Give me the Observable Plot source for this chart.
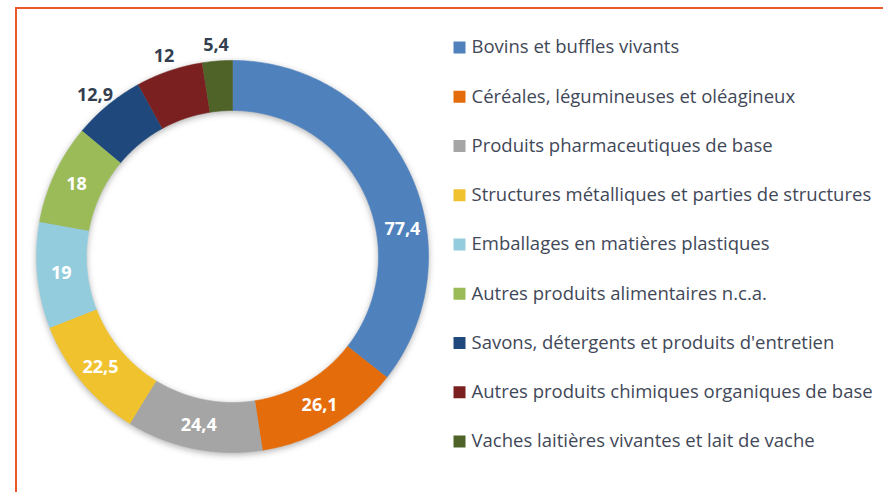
<!DOCTYPE html>
<html>
<head>
<meta charset="utf-8">
<script src="https://cdn.jsdelivr.net/npm/d3@7"></script>
<script src="https://cdn.jsdelivr.net/npm/@observablehq/plot@0.6"></script>
<style>
  html, body { margin: 0; padding: 0; background: #fff; overflow: hidden; }
  #wrap { position: relative; width: 883px; height: 492px; }
  #frame { position: absolute; left: 15px; top: 7px; width: 900px; height: 500px;
           border-top: 2px solid #E9592A; border-left: 2px solid #E9592A; box-sizing: border-box; pointer-events: none; }
  svg { display: block; }
</style>
</head>
<body>
<div id="wrap"><div id="frame"></div></div>
<script>
// ---- data ----
const categories = [
  "Bovins et buffles vivants",
  "Céréales, légumineuses et oléagineux",
  "Produits pharmaceutiques de base",
  "Structures métalliques et parties de structures",
  "Emballages en matières plastiques",
  "Autres produits alimentaires n.c.a.",
  "Savons, détergents et produits d'entretien",
  "Autres produits chimiques organiques de base",
  "Vaches laitières vivantes et lait de vache"
];
const values = [77.4, 26.1, 24.4, 22.5, 19, 18, 12.9, 12, 5.4];
const colors = ["#4F81BD", "#E46C0A", "#A5A5A5", "#F0C22E", "#93CDDD", "#9BBB59", "#1F497D", "#7B2020", "#4F6228"];
const outsideLabel = [false, false, false, false, false, false, true, true, true];

// ---- layout ----
const W = 883, H = 492;
const cx = 232, cy = 256, R = 196, r0 = 146;
const labelRIn = 172, labelROut = 212;
const labelAngleNudge = [17, 0, 0, 0, 0, 0, -1, 0, 0]; // degrees
const legendX = 459, legendTextX = 471, legendY0 = 47, legendDY = 49.25;

const fmt = d3.formatLocale({decimal: ",", thousands: " ", grouping: [3], currency: ["", "€"]}).format("~g");

const pie = d3.pie().sort(null).value(d => d)(values);
const pt = (a, rad) => ({x: cx + rad * Math.sin(a), y: cy - rad * Math.cos(a)});

const rows = [];
pie.forEach((p, i) => {
  const n = Math.max(4, Math.ceil((p.endAngle - p.startAngle) / (Math.PI / 360)));
  for (let k = 0; k <= n; k++) {
    const a = p.startAngle + (p.endAngle - p.startAngle) * k / n;
    rows.push({cat: categories[i], ...pt(a, R)});
  }
  for (let k = n; k >= 0; k--) {
    const a = p.startAngle + (p.endAngle - p.startAngle) * k / n;
    rows.push({cat: categories[i], ...pt(a, r0)});
  }
});

const labels = pie.map((p, i) => {
  const a = (p.startAngle + p.endAngle) / 2 + labelAngleNudge[i] * Math.PI / 180;
  const q = pt(a, outsideLabel[i] ? labelROut : labelRIn);
  return {cat: categories[i], text: fmt(values[i]), x: q.x, y: q.y, outside: outsideLabel[i]};
});

const legend = categories.map((c, i) => ({cat: c, y: legendY0 + i * legendDY}));

const chart = Plot.plot({
  width: W, height: H,
  margin: 0,
  style: {fontFamily: "'Open Sans', Lato, sans-serif", background: "transparent"},
  x: {domain: [0, W], range: [0, W], axis: null},
  y: {domain: [0, H], range: [0, H], axis: null},
  color: {domain: categories, range: colors},
  marks: [
    Plot.line(rows, {x: "x", y: "y", z: "cat", fill: "cat", stroke: "cat", strokeWidth: 0.6}),
    Plot.text(labels.filter(d => !d.outside), {x: "x", y: "y", text: "text", fill: "white",
      fontSize: 18, fontWeight: "bold", textAnchor: "middle", lineAnchor: "middle"}),
    Plot.text(labels.filter(d => d.outside), {x: "x", y: "y", text: "text", fill: "#333F50",
      fontSize: 18, fontWeight: "bold", textAnchor: "middle", lineAnchor: "middle"}),
    Plot.dot(legend, {x: legendX, y: "y", symbol: "square", r: 6.77, fill: "cat", stroke: null}),
    Plot.text(legend, {x: legendTextX, y: "y", text: "cat", textAnchor: "start", lineAnchor: "middle",
      fontSize: 18.5, fill: "#3F4858"})
  ]
});

d3.select(chart).selectAll('g[aria-label="line"]').style("filter", "drop-shadow(0px 2px 3px rgba(0,0,0,0.3))");
document.getElementById("wrap").prepend(chart);
</script>
</body>
</html>
